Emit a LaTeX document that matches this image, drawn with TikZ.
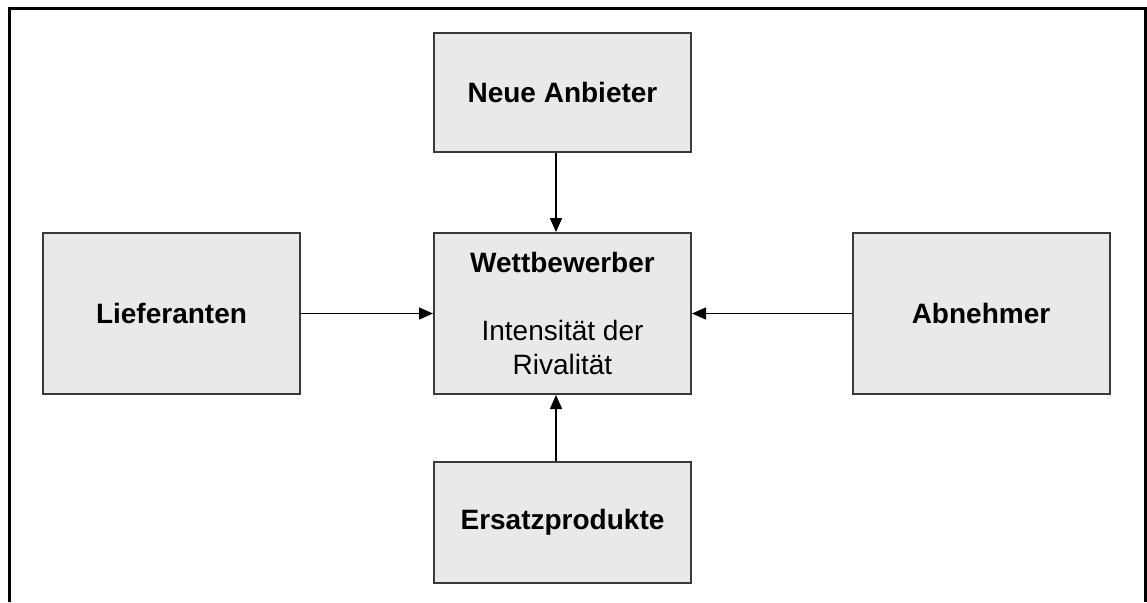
\documentclass[tikz,border=0pt]{standalone}
\usepackage{fontspec}
\setmainfont{Liberation Sans}
\usetikzlibrary{arrows.meta,positioning}
\definecolor{boxfill}{HTML}{E9E9E9}
\definecolor{boxline}{HTML}{3A3A3A}

\begin{document}
\begin{tikzpicture}[x=0.5pt,y=-0.5pt,>={Triangle[length=7pt,width=6pt]},on grid,
  force/.style={draw=boxline,line width=1pt,fill=boxfill,minimum width=128.5pt,minimum height=80.5pt,
    inner sep=0pt,align=center,font=\fontsize{14}{17}\selectfont\bfseries},
  pfeil/.style={->,line width=0.75pt}]
  \useasboundingbox (0,0) rectangle (1147,602);
  \draw[line width=1.5pt] (9,602) -- (9,8) -- (1145,8) -- (1145,602);

  \node[force]  (wett) at (562.5,313.5) {Wettbewerber\\[17pt]{\mdseries Intensität der}\\{\mdseries Rivalität}};
  \node[force,minimum height=59.5pt]  (neue)    [above=110.5pt of wett]  {Neue Anbieter};
  \node[force,minimum height=60.5pt]  (ersatz)  [below=104.5pt of wett]  {Ersatzprodukte};
  \node[force]  (lief)    [left=195.5pt of wett]   {Lieferanten};
  \node[force]  (abn)     [right=209.25pt of wett] {Abnehmer};

  \draw[pfeil] (lief) -- (wett);
  \draw[pfeil] (abn) -- (wett);
  \draw[pfeil] ([xshift=-3.25pt]neue.south) -- ([xshift=-3.25pt]wett.north);
  \draw[pfeil] ([xshift=-3.25pt]ersatz.north) -- ([xshift=-3.25pt]wett.south);
\end{tikzpicture}
\end{document}
